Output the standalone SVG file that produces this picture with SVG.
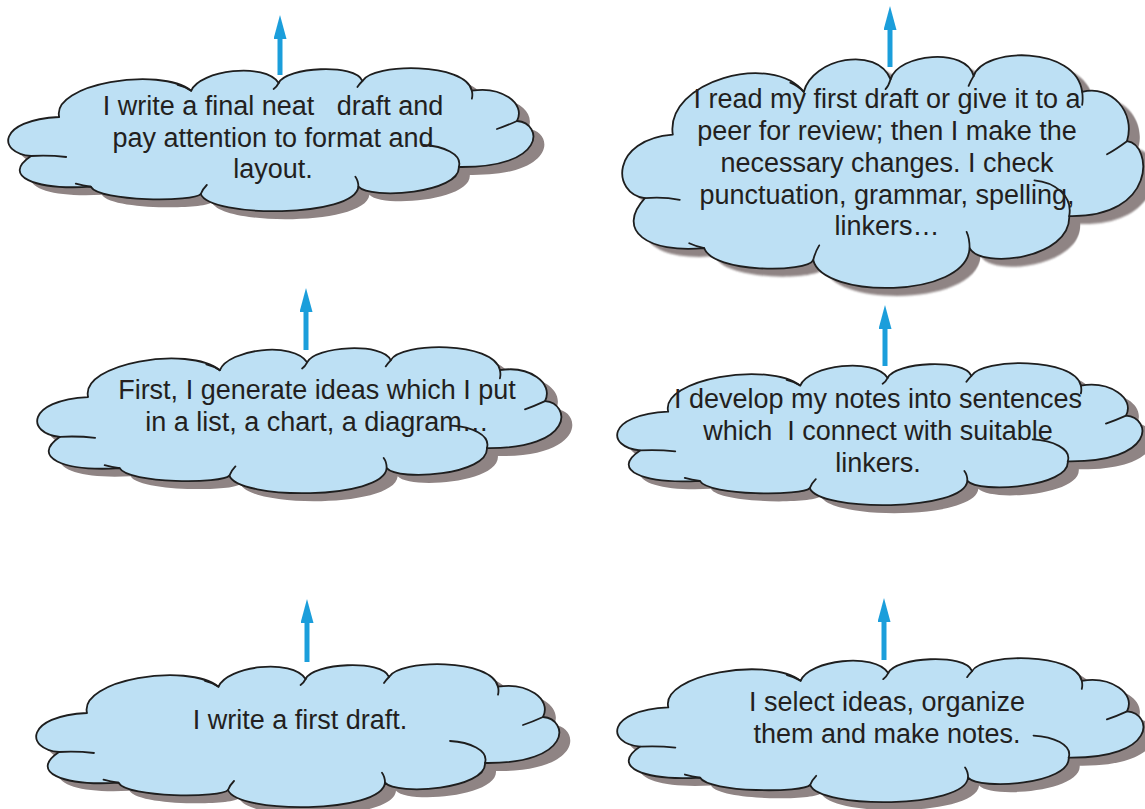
<svg xmlns="http://www.w3.org/2000/svg" width="1145" height="809" viewBox="0 0 1145 809">
<style>
.cloud{fill:#bde0f4;stroke:#1e1e1e;stroke-width:1.8;stroke-linejoin:round}
.tail{fill:none;stroke:#1e1e1e;stroke-width:1.8;stroke-linecap:round}
.shadow{fill:#8f8484;stroke:none}
.label{font-family:"Liberation Sans",Arial,sans-serif;font-size:27px;fill:#231f20;text-anchor:middle;white-space:pre}
.arrow{stroke:#1b9edb;stroke-width:5;fill:none}
</style>
<defs>
<path id="cloudShape" vector-effect="non-scaling-stroke" d="M 50 49 C 42 16 150 -2 181.5 22.7 C 190 2 255 -6 268.6 15 C 276 -1 345 -5 352 13 C 362 -5 455 -6 461 22.7 C 490 18 515 35 506 53 C 532 55 536 100 448 99 C 450 125 360 132 348 118.7 C 345 150 200 150 191 126 C 185 134 90 134 81.5 118.7 C 25 122 -8 108 22 88 C -12 85 -12 52 50 49 Z"/>
<path id="cloudTails" vector-effect="non-scaling-stroke" d="M 506 53 Q 495 58 486 61 M 448 99 C 452 86 432 78 413 77 M 22 88 Q 40 87 57 89 M 181.5 22.7 Q 176 19 168 17 M 268.6 15 q -2 4 -5 6 M 352 13 q -3 3 -5 6 M 461 22.7 q 1 4 0 8 M 348 118.7 q 0 -6 -3 -10 M 191 126 q 2 -5 6 -9 M 81.5 118.7 q -8 -1 -15 -3"/>
<filter id="soft" x="-5%" y="-5%" width="110%" height="110%"><feGaussianBlur stdDeviation="0.6"/></filter>
<marker id="head" markerUnits="userSpaceOnUse" markerWidth="24" markerHeight="13" viewBox="0 0 24 13" refX="0" refY="6.5" orient="auto">
<path d="M0,0 L24,6.5 L0,13 Z" fill="#1b9edb"/>
</marker>
</defs>

<g id="node-final-draft">
<use href="#cloudShape" class="shadow" filter="url(#soft)" transform="translate(20,76) scale(1.004,1)"/>
<use href="#cloudShape" class="cloud" transform="translate(9,68) scale(1.004,1)"/>
<use href="#cloudTails" class="tail" transform="translate(9,68) scale(1.004,1)"/>
<text class="label"><tspan x="273" y="115">I write a final neat   draft and</tspan><tspan x="273" y="147">pay attention to format and</tspan><tspan x="273" y="178">layout.</tspan></text>
</g>

<g id="node-review">
<use href="#cloudShape" class="shadow" filter="url(#soft)" transform="translate(634,63) scale(0.996,1.627)"/>
<use href="#cloudShape" class="cloud" transform="translate(623,55) scale(0.996,1.627)"/>
<use href="#cloudTails" class="tail" transform="translate(623,55) scale(0.996,1.627)"/>
<text class="label"><tspan x="887" y="108">I read my first draft or give it to a</tspan><tspan x="887" y="140">peer for review; then I make the</tspan><tspan x="887" y="172">necessary changes. I check</tspan><tspan x="887" y="204">punctuation, grammar, spelling,</tspan><tspan x="887" y="235">linkers…</tspan></text>
</g>

<g id="node-generate-ideas">
<use href="#cloudShape" class="shadow" filter="url(#soft)" transform="translate(49,355) scale(1.002,1.021)"/>
<use href="#cloudShape" class="cloud" transform="translate(38,347) scale(1.002,1.021)"/>
<use href="#cloudTails" class="tail" transform="translate(38,347) scale(1.002,1.021)"/>
<text class="label"><tspan x="317" y="399">First, I generate ideas which I put</tspan><tspan x="317" y="431">in a list, a chart, a diagram…</tspan></text>
</g>

<g id="node-develop-notes">
<use href="#cloudShape" class="shadow" filter="url(#soft)" transform="translate(629,371) scale(1.004,0.993)"/>
<use href="#cloudShape" class="cloud" transform="translate(618,363) scale(1.004,0.993)"/>
<use href="#cloudTails" class="tail" transform="translate(618,363) scale(1.004,0.993)"/>
<text class="label"><tspan x="878" y="408">I develop my notes into sentences</tspan><tspan x="878" y="440">which  I connect with suitable</tspan><tspan x="878" y="472">linkers.</tspan></text>
</g>

<g id="node-first-draft">
<use href="#cloudShape" class="shadow" filter="url(#soft)" transform="translate(48,672)"/>
<use href="#cloudShape" class="cloud" transform="translate(37,664)"/>
<use href="#cloudTails" class="tail" transform="translate(37,664)"/>
<text class="label"><tspan x="300" y="729">I write a first draft.</tspan></text>
</g>

<g id="node-select-ideas">
<use href="#cloudShape" class="shadow" filter="url(#soft)" transform="translate(629,666) scale(1.006,1.007)"/>
<use href="#cloudShape" class="cloud" transform="translate(618,658) scale(1.006,1.007)"/>
<use href="#cloudTails" class="tail" transform="translate(618,658) scale(1.006,1.007)"/>
<text class="label"><tspan x="887" y="711">I select ideas, organize</tspan><tspan x="887" y="743">them and make notes.</tspan></text>
</g>

<g id="connectors">
<line class="arrow" x1="280" y1="75" x2="280" y2="39" marker-end="url(#head)"/>
<line class="arrow" x1="890" y1="67" x2="890" y2="30" marker-end="url(#head)"/>
<line class="arrow" x1="306" y1="350" x2="306" y2="312" marker-end="url(#head)"/>
<line class="arrow" x1="885" y1="366" x2="885" y2="329" marker-end="url(#head)"/>
<line class="arrow" x1="307" y1="662" x2="307" y2="623" marker-end="url(#head)"/>
<line class="arrow" x1="884" y1="660" x2="884" y2="622" marker-end="url(#head)"/>
</g>
</svg>
